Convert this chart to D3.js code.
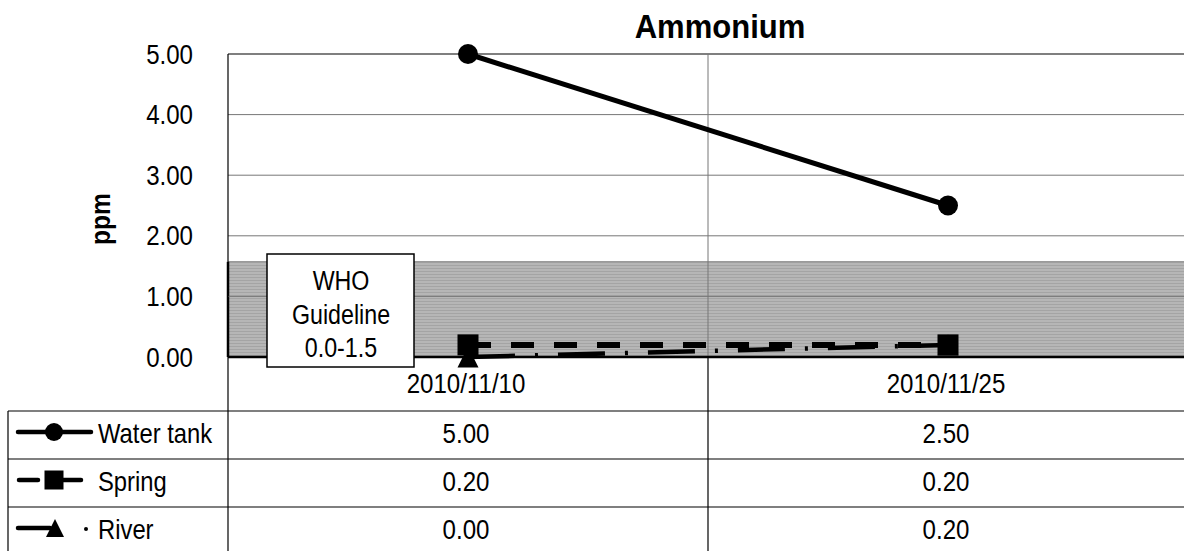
<!DOCTYPE html>
<html lang="en">
<head>
<meta charset="utf-8">
<title>Ammonium</title>
<script src="https://cdn.jsdelivr.net/npm/d3@7"></script>
<style>
  body { margin: 0; background: #fff; }
  text { font-family: "Liberation Sans", Arial, sans-serif; fill: #000; }
</style>
</head>
<body>
<div id="chart"></div>
<script>
// data
var dates = ["2010/11/10", "2010/11/25"];
var seriesNames = ["Water tank", "Spring", "River"];
var waterTank = [5.00, 2.50];
var spring = [0.20, 0.20];
var river = [0.00, 0.20];
var yTicks = [0, 1, 2, 3, 4, 5];
var guideline = [0, 1.57];   // shaded WHO band (as drawn)
var guideLabel = ["WHO", "Guideline", "0.0-1.5"];

var allSeries = [waterTank, spring, river];

var w = 1184, h = 551;
var mLeft = 228, mRight = 1188, mTop = 54, mBottom = 357;
var tableLeft = 8, rowTop = 411, rowH = 48;
var fs = 28;

var svg = d3.select("#chart").append("svg")
    .attr("width", w).attr("height", h);

var x = d3.scaleBand().domain(dates).range([mLeft, mRight]);
var y = d3.scaleLinear().domain([0, 5]).range([mBottom, mTop]);

// squeeze text to look like a narrow face
function condense(sel, f) {
  sel.each(function(){
    var len = this.getComputedTextLength();
    d3.select(this).attr("textLength", len * f).attr("lengthAdjust", "spacingAndGlyphs");
  });
  return sel;
}

// band texture
var defs = svg.append("defs");
var pat = defs.append("pattern")
    .attr("id", "hatch").attr("patternUnits", "userSpaceOnUse")
    .attr("width", 8).attr("height", 3);
pat.append("rect").attr("width", 8).attr("height", 3).attr("fill", "#b6b6b6");
pat.append("rect").attr("y", 1).attr("width", 8).attr("height", 1).attr("fill", "#a4a4a4");

// guideline band
svg.append("rect")
    .attr("x", mLeft).attr("y", y(guideline[1]))
    .attr("width", mRight - mLeft).attr("height", y(guideline[0]) - y(guideline[1]))
    .attr("fill", "url(#hatch)");
svg.append("line")
    .attr("x1", mLeft).attr("x2", mRight)
    .attr("y1", y(guideline[1])).attr("y2", y(guideline[1]))
    .attr("stroke", "#9a9a9a").attr("stroke-width", 1.5);
svg.append("line")
    .attr("x1", mLeft).attr("x2", mLeft)
    .attr("y1", y(guideline[1])).attr("y2", y(0))
    .attr("stroke", "#000").attr("stroke-width", 2.5);

// gridlines
svg.selectAll("line.grid").data(yTicks.filter(function(d){ return d > 0 && d < 5; }))
   .enter().append("line").attr("class", "grid")
   .attr("x1", mLeft).attr("x2", mRight)
   .attr("y1", function(d){ return y(d); }).attr("y2", function(d){ return y(d); })
   .attr("stroke", "#777").attr("stroke-width", 1);

// plot frame top
svg.append("line").attr("x1", mLeft).attr("x2", mRight)
   .attr("y1", mTop).attr("y2", mTop).attr("stroke", "#000").attr("stroke-width", 1.2);

// category divider (grey inside plot, black in table)
svg.append("line")
   .attr("x1", x(dates[1])).attr("x2", x(dates[1]))
   .attr("y1", mTop).attr("y2", mBottom)
   .attr("stroke", "#777").attr("stroke-width", 1);
svg.append("line")
   .attr("x1", x(dates[1])).attr("x2", x(dates[1]))
   .attr("y1", mBottom).attr("y2", h)
   .attr("stroke", "#000").attr("stroke-width", 1.2);
svg.append("line")
   .attr("x1", mLeft).attr("x2", mLeft)
   .attr("y1", mTop).attr("y2", h)
   .attr("stroke", "#000").attr("stroke-width", 1.2);

// x axis base line
svg.append("line").attr("x1", mLeft).attr("x2", mRight)
   .attr("y1", y(0)).attr("y2", y(0)).attr("stroke", "#000").attr("stroke-width", 2.5);

// y tick labels
svg.selectAll("text.ytick").data(yTicks).enter().append("text")
   .attr("class", "ytick")
   .attr("x", 193).attr("y", function(d){ return y(d); })
   .attr("dy", "0.34em").attr("text-anchor", "end")
   .attr("font-size", fs)
   .text(function(d){ return d3.format(".2f")(d); })
   .call(condense, 0.86);

// y axis title
svg.append("text")
   .attr("transform", "translate(110,219) rotate(-90)")
   .attr("text-anchor", "middle").attr("font-size", fs).attr("font-weight", "bold")
   .text("ppm")
   .call(condense, 0.88);

// title
svg.append("text")
   .attr("x", 720).attr("y", 38).attr("text-anchor", "middle")
   .attr("font-size", 33).attr("font-weight", "bold")
   .text("Ammonium")
   .call(condense, 0.94);

// category labels
svg.selectAll("text.xcat").data(dates).enter().append("text")
   .attr("class", "xcat")
   .attr("x", function(d){ return x(d) + x.bandwidth() / 2 - 2; })
   .attr("y", 393).attr("text-anchor", "middle").attr("font-size", fs)
   .text(function(d){ return d; })
   .call(condense, 0.86);

// WHO box
var box = svg.append("g");
box.append("rect").attr("x", 267).attr("y", 254).attr("width", 147).attr("height", 113)
   .attr("fill", "#fff").attr("stroke", "#000").attr("stroke-width", 1.5);
box.selectAll("text").data(guideLabel).enter().append("text")
   .attr("x", 341).attr("y", function(d, i){ return 290 + i * 33.5; })
   .attr("text-anchor", "middle").attr("font-size", 27)
   .text(function(d){ return d; })
   .call(condense, 0.86);

// series
var cx = function(i){ return x(dates[i]) + x.bandwidth() / 2; };
var line = d3.line().x(function(d, i){ return cx(i); }).y(function(d){ return y(d); });
var styles = [
  { dash: null, width: 5 },
  { dash: "23,20", width: 6 },
  { dash: "47,20,3,20", width: 4.5 }
];

// draw river, spring, then water tank on top
[2, 1, 0].forEach(function(s){
  svg.append("path").datum(allSeries[s])
     .attr("d", line).attr("fill", "none")
     .attr("stroke", "#000").attr("stroke-width", styles[s].width)
     .attr("stroke-dasharray", styles[s].dash);
});

var markerG = svg.append("g");
function marker(g, s, px, py, size) {
  if (s === 0) {
    g.append("circle").attr("cx", px).attr("cy", py).attr("r", size / 2).attr("fill", "#000");
  } else if (s === 1) {
    g.append("rect").attr("x", px - size / 2).attr("y", py - size / 2)
     .attr("width", size).attr("height", size).attr("fill", "#000");
  } else {
    g.append("path")
     .attr("d", "M" + px + "," + (py - size / 2) + "L" + (px + size / 2) + "," + (py + size / 2) +
                "L" + (px - size / 2) + "," + (py + size / 2) + "Z")
     .attr("fill", "#000");
  }
}
[2, 1, 0].forEach(function(s){
  allSeries[s].forEach(function(v, i){
    marker(markerG, s, cx(i), y(v), s === 0 ? 20 : 21);
  });
});

// data table
for (var r = 0; r < 3; r++) {
  svg.append("line").attr("x1", tableLeft).attr("x2", w)
     .attr("y1", rowTop + r * rowH).attr("y2", rowTop + r * rowH)
     .attr("stroke", "#000").attr("stroke-width", 1.2);
}
svg.append("line").attr("x1", tableLeft).attr("x2", tableLeft)
   .attr("y1", rowTop).attr("y2", h).attr("stroke", "#000").attr("stroke-width", 1.2);

seriesNames.forEach(function(name, s){
  var cy = rowTop + s * rowH + rowH / 2;
  var g = svg.append("g");
  var ly = cy - 3;
  if (s === 0) {
    g.append("line").attr("x1", 18).attr("x2", 91).attr("y1", ly).attr("y2", ly)
     .attr("stroke", "#000").attr("stroke-width", 4.5).attr("stroke-linecap", "round");
    marker(g, 0, 54, ly, 18);
  } else if (s === 1) {
    g.append("line").attr("x1", 19).attr("x2", 38).attr("y1", ly).attr("y2", ly)
     .attr("stroke", "#000").attr("stroke-width", 4.5).attr("stroke-linecap", "round");
    g.append("line").attr("x1", 60).attr("x2", 81).attr("y1", ly).attr("y2", ly)
     .attr("stroke", "#000").attr("stroke-width", 4.5).attr("stroke-linecap", "round");
    marker(g, 1, 54, ly, 19);
  } else {
    g.append("line").attr("x1", 18).attr("x2", 50).attr("y1", ly).attr("y2", ly)
     .attr("stroke", "#000").attr("stroke-width", 4.5).attr("stroke-linecap", "round");
    marker(g, 2, 55, ly, 18);
    g.append("circle").attr("cx", 86).attr("cy", ly + 1).attr("r", 2).attr("fill", "#000");
  }
  g.append("text").attr("x", 98).attr("y", cy).attr("dy", "0.3em")
   .attr("font-size", fs).text(name)
   .call(condense, 0.85);

  allSeries[s].forEach(function(v, i){
    svg.append("text").attr("x", cx(i) - 2).attr("y", cy).attr("dy", "0.3em")
       .attr("text-anchor", "middle").attr("font-size", fs)
       .text(d3.format(".2f")(v))
       .call(condense, 0.86);
  });
});
</script>
</body>
</html>
